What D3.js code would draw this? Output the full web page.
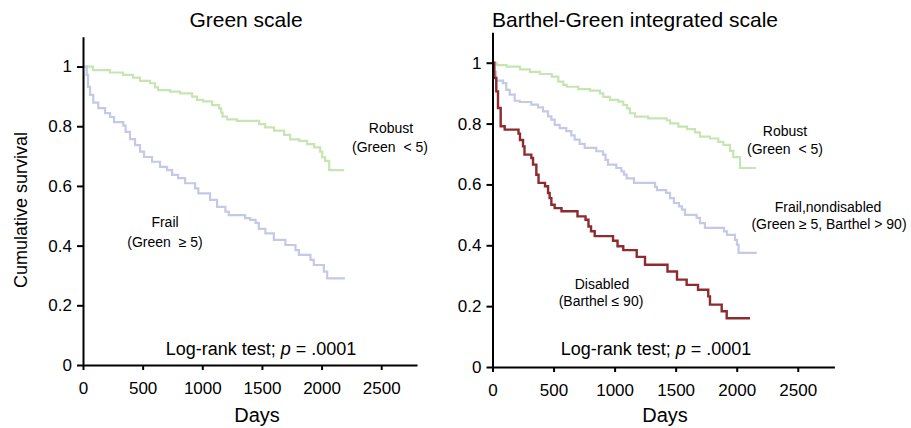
<!DOCTYPE html>
<html><head><meta charset="utf-8">
<script src="https://cdn.jsdelivr.net/npm/d3@7"></script>
<style>
body{margin:0;background:#fff;}
svg{font-family:"Liberation Sans",Arial,sans-serif;}
</style></head>
<body><svg id="c" width="911" height="428"></svg>
<script>
const xTicks = [0,500,1000,1500,2000,2500];
const yTicks = [0,0.2,0.4,0.6,0.8,1];
const yTickLabels = ["0","0.2","0.4","0.6","0.8","1"];

const leftRobust = [[0,1],[84,0.988],[226,0.980],[336,0.972],[419,0.963],[478,0.952],[562,0.944],[604,0.930],[629,0.921],[730,0.916],[814,0.910],[914,0.899],[956,0.888],[1007,0.883],[1082,0.871],[1141,0.860],[1158,0.846],[1170,0.832],[1208,0.823],[1292,0.818],[1477,0.807],[1527,0.796],[1602,0.785],[1686,0.771],[1737,0.756],[1812,0.751],[1879,0.740],[1938,0.729],[1988,0.715],[2005,0.696],[2030,0.684],[2064,0.653],[2190,0.653]];
const leftFrail = [[0,1],[31,0.972],[42,0.932],[59,0.905],[86,0.879],[128,0.861],[185,0.844],[227,0.831],[260,0.814],[338,0.802],[357,0.781],[394,0.757],[436,0.737],[478,0.715],[512,0.697],[579,0.681],[646,0.664],[705,0.653],[747,0.637],[797,0.626],[856,0.609],[940,0.592],[967,0.575],[1065,0.553],[1124,0.530],[1194,0.514],[1222,0.502],[1359,0.492],[1401,0.486],[1447,0.476],[1474,0.456],[1529,0.441],[1600,0.419],[1697,0.402],[1781,0.385],[1810,0.369],[1907,0.352],[1935,0.335],[2019,0.313],[2047,0.290],[2195,0.290]];
const rightRobust = [[0,1],[34,0.992],[116,0.987],[225,0.978],[307,0.970],[389,0.963],[485,0.954],[539,0.938],[580,0.927],[608,0.921],[703,0.913],[799,0.908],[880,0.899],[907,0.888],[962,0.878],[1030,0.872],[1071,0.861],[1102,0.850],[1126,0.834],[1167,0.823],[1274,0.817],[1427,0.811],[1454,0.801],[1522,0.790],[1593,0.782],[1658,0.771],[1699,0.757],[1781,0.751],[1849,0.740],[1890,0.730],[1945,0.710],[1972,0.690],[2027,0.654],[2158,0.654]];
const rightFrail = [[0,1],[8,0.970],[30,0.941],[86,0.933],[113,0.911],[141,0.895],[182,0.875],[223,0.871],[318,0.862],[373,0.853],[414,0.840],[455,0.824],[482,0.813],[509,0.796],[550,0.785],[604,0.775],[645,0.761],[673,0.747],[714,0.733],[755,0.720],[850,0.709],[905,0.698],[925,0.681],[946,0.665],[1014,0.654],[1055,0.643],[1077,0.632],[1099,0.620],[1159,0.605],[1331,0.592],[1347,0.581],[1421,0.572],[1454,0.555],[1486,0.539],[1527,0.528],[1552,0.517],[1577,0.500],[1672,0.490],[1699,0.473],[1740,0.457],[1896,0.446],[1921,0.434],[1986,0.418],[2002,0.402],[2015,0.375],[2164,0.375]];
const rightDisabled = [[0,1],[15,0.950],[31,0.906],[45,0.851],[67,0.791],[100,0.780],[213,0.767],[225,0.746],[250,0.725],[262,0.698],[318,0.687],[332,0.665],[359,0.632],[377,0.605],[430,0.594],[455,0.572],[468,0.555],[482,0.533],[509,0.522],[565,0.512],[696,0.495],[762,0.484],[786,0.462],[807,0.446],[837,0.430],[987,0.415],[1024,0.397],[1071,0.384],[1181,0.362],[1249,0.336],[1433,0.314],[1511,0.287],[1590,0.270],[1683,0.254],[1767,0.232],[1781,0.205],[1877,0.183],[1918,0.160],[2109,0.160]];

const colGreen = "#c6e5b2", colBlue = "#c4c9e8", colRed = "#8c2b30";

const svg = d3.select("#c");

const panels = [
  {title:"Green scale", tx:246, x0:83, x1:417, y0:365, y1:36.7,
   series:[{d:leftRobust,c:colGreen,w:2.2},{d:leftFrail,c:colBlue,w:2.2}],
   labels:[["Robust",391,133],["(Green  < 5)",390,152],["Frail",165,227],["(Green  ≥ 5)",165,247]],
   lr:[261,355], days:257, ylab:true},
  {title:"Barthel-Green integrated scale", tx:635, x0:492.5, x1:834.4, y0:367, y1:32.3,
   series:[{d:rightRobust,c:colGreen,w:2.2},{d:rightFrail,c:colBlue,w:2.2},{d:rightDisabled,c:colRed,w:2.4}],
   labels:[["Robust",785,136],["(Green  < 5)",785,154],["Frail,nondisabled",828,212],["(Green ≥ 5, Barthel > 90)",829,229],["Disabled",602,289],["(Barthel ≤ 90)",601,306]],
   lr:[656,355], days:665, ylab:false}
];

panels.forEach(p=>{
  const x = d3.scaleLinear().domain([0,2800]).range([p.x0,p.x1]);
  const y = d3.scaleLinear().domain([0,1.1]).range([p.y0,p.y1]);
  const line = d3.line().x(d=>x(d[0])).y(d=>y(d[1])).curve(d3.curveStepAfter);
  const g = svg.append("g");
  p.series.forEach(s=>{
    g.append("path").attr("d",line(s.d)).attr("fill","none").attr("stroke",s.c).attr("stroke-width",s.w);
  });
  const ya = g.append("g").attr("transform",`translate(${p.x0},0)`)
    .call(d3.axisLeft(y).tickValues(yTicks).tickFormat((d,i)=>yTickLabels[i]).tickSize(6).tickSizeOuter(0).tickPadding(5));
  const xa = g.append("g").attr("transform",`translate(0,${p.y0})`)
    .call(d3.axisBottom(x).tickValues(xTicks).tickFormat(d3.format("d")).tickSize(5).tickSizeOuter(0).tickPadding(12));
  [ya,xa].forEach(a=>{
    a.selectAll("path,line").attr("stroke","#000").attr("stroke-width",2);
    a.selectAll("text").attr("font-size",17).attr("fill","#000").attr("font-family","Liberation Sans, Arial, sans-serif");
  });
  g.append("text").attr("x",p.tx).attr("y",27).attr("text-anchor","middle").attr("font-size",21).text(p.title);
  g.append("text").attr("x",p.days).attr("y",422).attr("text-anchor","middle").attr("font-size",20).text("Days");
  p.labels.forEach(l=>{
    g.append("text").attr("x",l[1]).attr("y",l[2]).attr("text-anchor","middle").attr("font-size",14).attr("xml:space","preserve").style("white-space","pre").text(l[0]);
  });
  const lr = g.append("text").attr("x",p.lr[0]).attr("y",p.lr[1]).attr("text-anchor","middle").attr("font-size",18);
  lr.append("tspan").text("Log-rank test; ");
  lr.append("tspan").attr("font-style","italic").text("p");
  lr.append("tspan").text(" = .0001");
  if(p.ylab){
    g.append("text").attr("transform","translate(27,210) rotate(-90)").attr("text-anchor","middle").attr("font-size",18).text("Cumulative survival");
  }
});
</script></body></html>
